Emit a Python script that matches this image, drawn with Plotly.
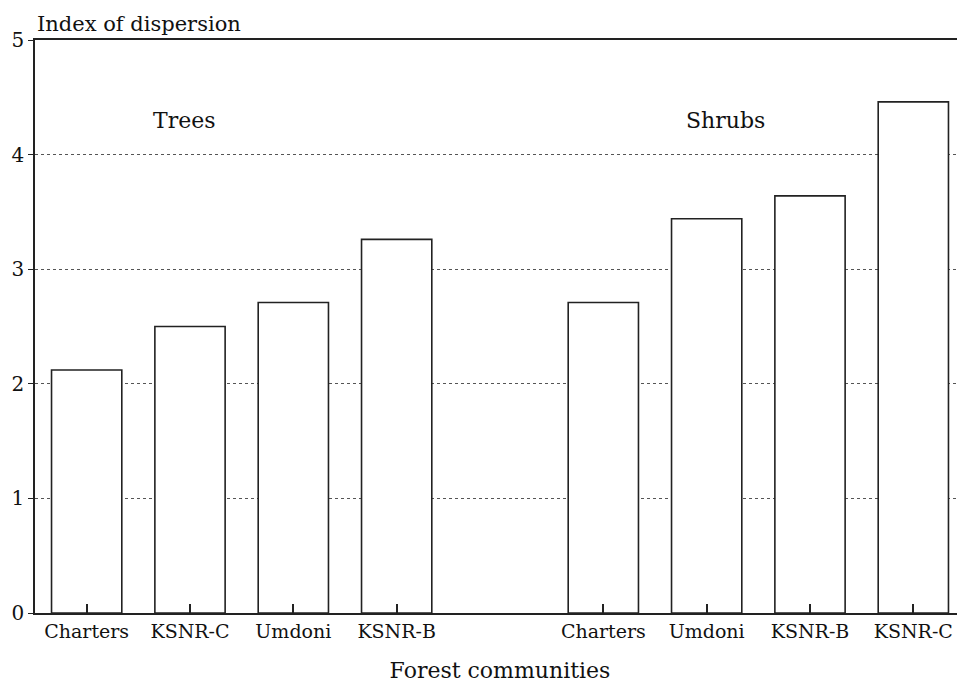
import plotly.graph_objects as go

# values
tree_sites = ['Charters', 'KSNR-C', 'Umdoni', 'KSNR-B']
tree_index = [2.12, 2.50, 2.71, 3.26]

shrub_sites = ['Charters', 'Umdoni', 'KSNR-B', 'KSNR-C']
shrub_index = [2.71, 3.44, 3.64, 4.46]

y_ticks = [0, 1, 2, 3, 4, 5]

FONT = 'DejaVu Serif'

# one empty slot between the two groups
tree_x = list(range(len(tree_sites)))
shrub_x = [len(tree_sites) + 1 + i for i in range(len(shrub_sites))]

fig = go.Figure()
for xs, ys, name in [(tree_x, tree_index, 'Trees'), (shrub_x, shrub_index, 'Shrubs')]:
    fig.add_trace(
        go.Bar(
            x=xs,
            y=ys,
            name=name,
            width=0.68,
            marker=dict(color='white', line=dict(color='#222', width=1.6)),
            showlegend=False,
        )
    )

# page body adds an 8px margin, so the figure is a bit smaller than the window
fig.update_layout(
    width=957,
    height=685,
    margin=dict(l=27, r=0, t=32, b=80),
    plot_bgcolor='white',
    paper_bgcolor='white',
    font=dict(family=FONT, color='#111', size=18),
    xaxis=dict(
        range=[-0.5, 8.5],
        automargin=False,
        tickvals=tree_x + shrub_x,
        ticktext=tree_sites + shrub_sites,
        ticks='inside',
        ticklen=9,
        tickwidth=1.5,
        tickcolor='#222',
        layer='above traces',
        showgrid=False,
        showline=True,
        linecolor='#222',
        linewidth=1.5,
        mirror=True,
        tickfont=dict(size=19),
        title=dict(text='Forest communities', font=dict(size=22), standoff=22),
    ),
    yaxis=dict(
        range=[0, 5],
        automargin=False,
        tickvals=y_ticks,
        ticks='outside',
        ticklen=5,
        tickcolor='#222',
        showline=True,
        linecolor='#222',
        linewidth=1.5,
        showgrid=True,
        gridcolor='#555',
        griddash='dot',
        gridwidth=1,
        zeroline=False,
        tickfont=dict(size=20),
    ),
    annotations=[
        dict(text='Index of dispersion', xref='paper', yref='paper', x=0.0, y=1.0,
             xanchor='left', yanchor='bottom', yshift=2, showarrow=False, font=dict(size=21)),
        dict(text='Trees', x=0.95, y=4.3, xref='x', yref='y', showarrow=False, font=dict(size=22)),
        dict(text='Shrubs', x=6.18, y=4.3, xref='x', yref='y', showarrow=False, font=dict(size=22)),
    ],
)

fig.write_html('out.html')
